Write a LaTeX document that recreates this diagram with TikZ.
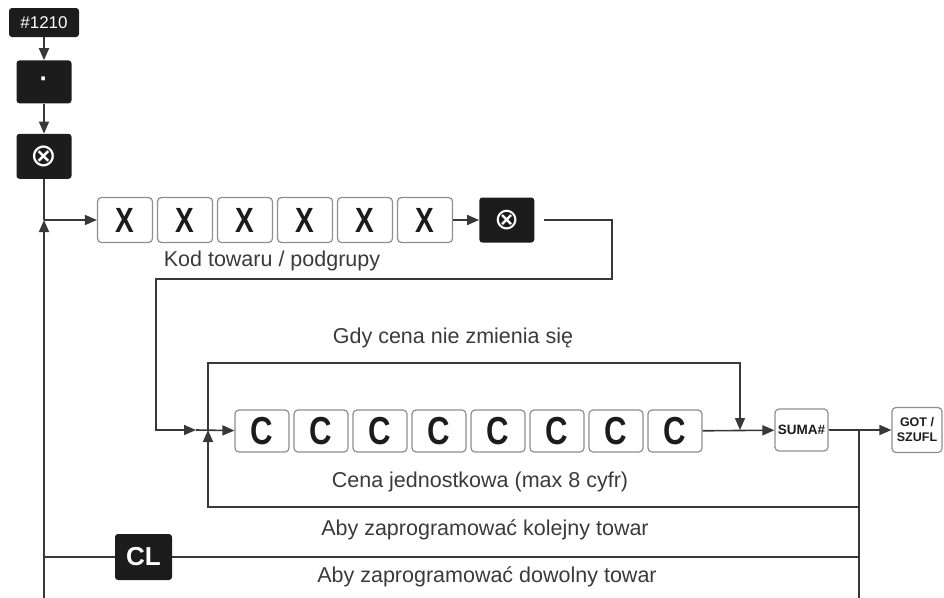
\documentclass[tikz,border=0pt]{standalone}
\usepackage{fontspec}
\setmainfont{Liberation Sans}
\newfontfamily\keyfont[FakeStretch=0.8]{Liberation Sans}
\newfontfamily\symfont{DejaVu Sans}
\usepackage{xcolor}
\definecolor{KeyBlack}{HTML}{1C1C1C}
\definecolor{KeyBorder}{HTML}{8E8E8E}
\definecolor{LineGrey}{HTML}{383838}
\definecolor{TextGrey}{HTML}{3A3A3A}
\usepackage{tikz}
\usetikzlibrary{arrows.meta, positioning}
\tikzstyle{key} = [rectangle, draw=KeyBorder, fill=white, text=KeyBlack, minimum width=55pt, minimum height=45pt, inner sep=0pt, rounded corners=4pt, line width=1.2pt, font=\keyfont\bfseries\fontsize{35}{35}\selectfont]
\tikzstyle{pricekey} = [key, minimum width=54pt, minimum height=42pt, font=\keyfont\bfseries\fontsize{39}{39}\selectfont]
\tikzstyle{blackkey} = [rectangle, fill=KeyBlack, text=white, minimum width=55pt, minimum height=44pt, inner sep=0pt, rounded corners=3pt, font=\fontsize{26}{26}\selectfont]
\tikzstyle{note} = [text=TextGrey, inner sep=0pt, font=\fontsize{21.5}{24}\selectfont]
\tikzstyle{arrow} = [->, >={Triangle[length=12pt,width=10pt]}, color=LineGrey, line width=1.6pt]
\tikzstyle{line} = [-, color=LineGrey, line width=1.6pt]

\begin{document}
\begin{tikzpicture}[x=1pt, y=-1pt]
    \useasboundingbox (0,0) rectangle (944,597);
    % Entry keys
    \node [blackkey, minimum width=70pt, minimum height=29pt, font=\fontsize{17}{17}\selectfont] (code) at (44,22.5) {\#1210};
    \node [blackkey, minimum height=43pt, below=23pt of code] (point) {\bfseries ·};
    \node [blackkey, minimum height=45pt, below=30pt of point, font=\fontsize{32}{32}\selectfont] (mult) {\symfont ⊗};

    % Product code
    \coordinate (j1) at (44,220);
    \node [key] (x1) at (125,220) {X};
    \node [key, right=3.8pt of x1] (x2) {X};
    \node [key, right=3.8pt of x2] (x3) {X};
    \node [key, right=3.8pt of x3] (x4) {X};
    \node [key, right=3.8pt of x4] (x5) {X};
    \node [key, right=3.8pt of x5] (x6) {X};
    \node [blackkey, minimum height=45pt, right=26pt of x6, font=\fontsize{30}{30}\selectfont] (mult2) {\symfont ⊗};
    \node [note] (kod) at (272,261) {Kod towaru / podgrupy};

    % Unit price
    \node [pricekey] (c1) at (262,431) {C};
    \node [pricekey, right=3.8pt of c1] (c2) {C};
    \node [pricekey, right=3.8pt of c2] (c3) {C};
    \node [pricekey, right=3.8pt of c3] (c4) {C};
    \node [pricekey, right=3.8pt of c4] (c5) {C};
    \node [pricekey, right=3.8pt of c5] (c6) {C};
    \node [pricekey, right=3.8pt of c6] (c7) {C};
    \node [pricekey, right=3.8pt of c7] (c8) {C};
    \node [key, minimum width=53pt, minimum height=42pt, font=\bfseries\fontsize{13.5}{13.5}\selectfont] (suma) at (801.5,430) {SUMA\#};
    \node [key, minimum width=50pt, minimum height=45pt, align=center, font=\bfseries\fontsize{12.5}{15}\selectfont] (got) at (917,430) {GOT /\\SZUFL};
    \node [blackkey, minimum width=57pt, minimum height=46pt, font=\bfseries\fontsize{26}{26}\selectfont] (cl) at (143.5,557) {CL};

    \node [note] (gdy) at (453,338) {Gdy cena nie zmienia się};
    \node [note] (cena) at (480,482) {Cena jednostkowa (max 8 cyfr)};
    \node [note] (kolejny) at (485,530) {Aby zaprogramować kolejny towar};
    \node [note] (dowolny) at (487,577) {Aby zaprogramować dowolny towar};

    % Turning points
    \coordinate (r1) at (612,220);
    \coordinate (l1) at (156,279);
    \coordinate (jin) at (196,430);
    \coordinate (j2) at (208,430);
    \coordinate (t2) at (740,363);
    \coordinate (d2) at (740,430);
    \coordinate (r2) at (859,430);
    \coordinate (b2) at (208,507);
    \coordinate (l3) at (44,557);
    \coordinate (br) at (859,599);

    % Connect nodes
    \draw [arrow] (code) -- (point);
    \draw [arrow] (point) -- (mult);
    \draw [line] (mult) -- (j1);
    \draw [arrow] (j1) -- (x1);
    \draw [arrow] (x6) -- (mult2);
    \draw [arrow, shorten <=9pt] (mult2) -- (r1) |- (l1) |- (jin);
    \draw [arrow] (jin) -- (c1);
    \draw [arrow] (j2) |- (t2) -- (d2);
    \draw [arrow] (c8) -- (suma);
    \draw [arrow] (suma) -- (got);
    \draw [arrow] (r2) |- (b2) -- (j2);
    \draw [line] (r2) |- (cl);
    \draw [line] (cl) -- (l3);
    \draw [arrow] (r2) -- (br) -| (j1);
\end{tikzpicture}
\end{document}
